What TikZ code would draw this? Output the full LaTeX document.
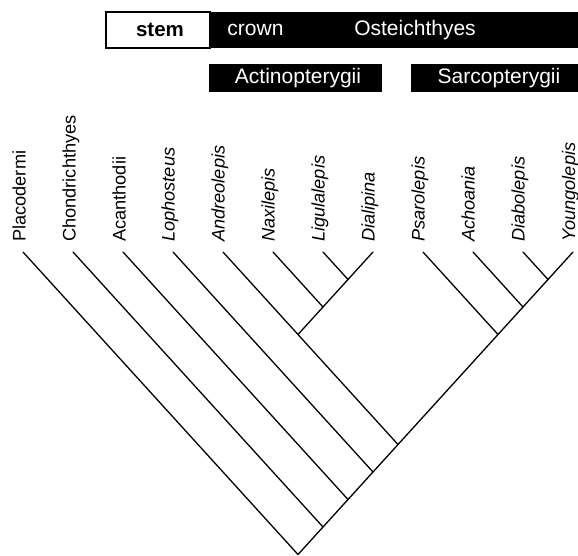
\documentclass[tikz,border=0pt]{standalone}
\usepackage{fontspec}
\setmainfont{Liberation Sans}
\begin{document}
\begin{tikzpicture}[x=1pt,y=-1pt,
  branch/.style={line width=1.3pt, line cap=round, line join=round},
  taxon/.style={rotate=90, anchor=base west, inner sep=0pt, font=\fontsize{18.2}{20}\selectfont},
  genus/.style={taxon, font=\fontsize{18.2}{20}\selectfont\itshape},
  blackbox/.style={fill=black, draw=none, inner sep=0pt},
  whitebox/.style={fill=white, draw=black, line width=1.2pt, inner sep=0pt},
  toplabel/.style={inner sep=0pt, font=\fontsize{21}{24}\selectfont}
]
\useasboundingbox (0,0) rectangle (578,556);
\clip (0,0) rectangle (578,556);

% header bars
\node[whitebox, minimum width=104pt, minimum height=36pt] (stembox) at (158,30) {};
\node[blackbox, minimum width=372pt, minimum height=36.6pt] (crownbox) at (396,30) {};
\node[toplabel, text=black, font=\fontsize{20.5}{24}\selectfont\bfseries] (stem) at (160,30) {stem};
\node[toplabel, text=white] (crown) at (255.5,30) {crown};
\node[toplabel, text=white] (oste) at (415,30) {Osteichthyes};
\node[blackbox, minimum width=173pt, minimum height=28pt] (actbox) at (295.5,78) {};
\node[blackbox, minimum width=170pt, minimum height=28pt] (sarbox) at (496,78) {};
\node[toplabel, text=white] (act) at (298,78) {Actinopterygii};
\node[toplabel, text=white] (sar) at (499,78) {Sarcopterygii};

% tips
\coordinate (t1) at (23,252);
\coordinate (t2) at (73,252);
\coordinate (t3) at (123,252);
\coordinate (t4) at (173,252);
\coordinate (t5) at (223,252);
\coordinate (t6) at (273,252);
\coordinate (t7) at (323,252);
\coordinate (t8) at (373,252);
\coordinate (t9) at (423,252);
\coordinate (t10) at (473,252);
\coordinate (t11) at (523,252);
\coordinate (t12) at (573,252);

% tip labels
\node[taxon] (l1) at (25.5,242) {Placodermi};
\node[taxon] (l2) at (75.5,242) {Chondrichthyes};
\node[taxon] (l3) at (125.5,242) {Acanthodii};
\node[genus] (l4) at (174.5,242) {Lophosteus};
\node[genus] (l5) at (224.5,242) {Andreolepis};
\node[genus] (l6) at (274.5,242) {Naxilepis};
\node[genus] (l7) at (324.5,242) {Ligulalepis};
\node[genus] (l8) at (374.5,242) {Dialipina};
\node[genus] (l9) at (424.5,242) {Psarolepis};
\node[genus] (l10) at (474.5,242) {Achoania};
\node[genus] (l11) at (524.5,242) {Diabolepis};
\node[genus] (l12) at (575,242) {Youngolepis};

% internal nodes (slope 1.1)
\coordinate (nLD) at (348,279.5);
\coordinate (nND) at (323,307);
\coordinate (nA) at (298,334.5);
\coordinate (nDY) at (548,279.5);
\coordinate (nAY) at (523,307);
\coordinate (nS) at (498,334.5);
\coordinate (nO) at (398,444.5);
\coordinate (nL) at (373,472);
\coordinate (nAc) at (348,499.5);
\coordinate (nCh) at (323,527);
\coordinate (root) at (298,554.5);

% branches
\draw[branch] (t7) -- (nLD);
\draw[branch] (t8) -- (nLD);
\draw[branch] (t6) -- (nND);
\draw[branch] (nLD) -- (nND);
\draw[branch] (t5) -- (nA);
\draw[branch] (nND) -- (nA);
\draw[branch] (t11) -- (nDY);
\draw[branch] (t12) -- (nDY);
\draw[branch] (t10) -- (nAY);
\draw[branch] (nDY) -- (nAY);
\draw[branch] (t9) -- (nS);
\draw[branch] (nAY) -- (nS);
\draw[branch] (nA) -- (nO);
\draw[branch] (nS) -- (nO);
\draw[branch] (t4) -- (nL);
\draw[branch] (nO) -- (nL);
\draw[branch] (t3) -- (nAc);
\draw[branch] (nL) -- (nAc);
\draw[branch] (t2) -- (nCh);
\draw[branch] (nAc) -- (nCh);
\draw[branch] (t1) -- (root);
\draw[branch] (nCh) -- (root);
\end{tikzpicture}
\end{document}
